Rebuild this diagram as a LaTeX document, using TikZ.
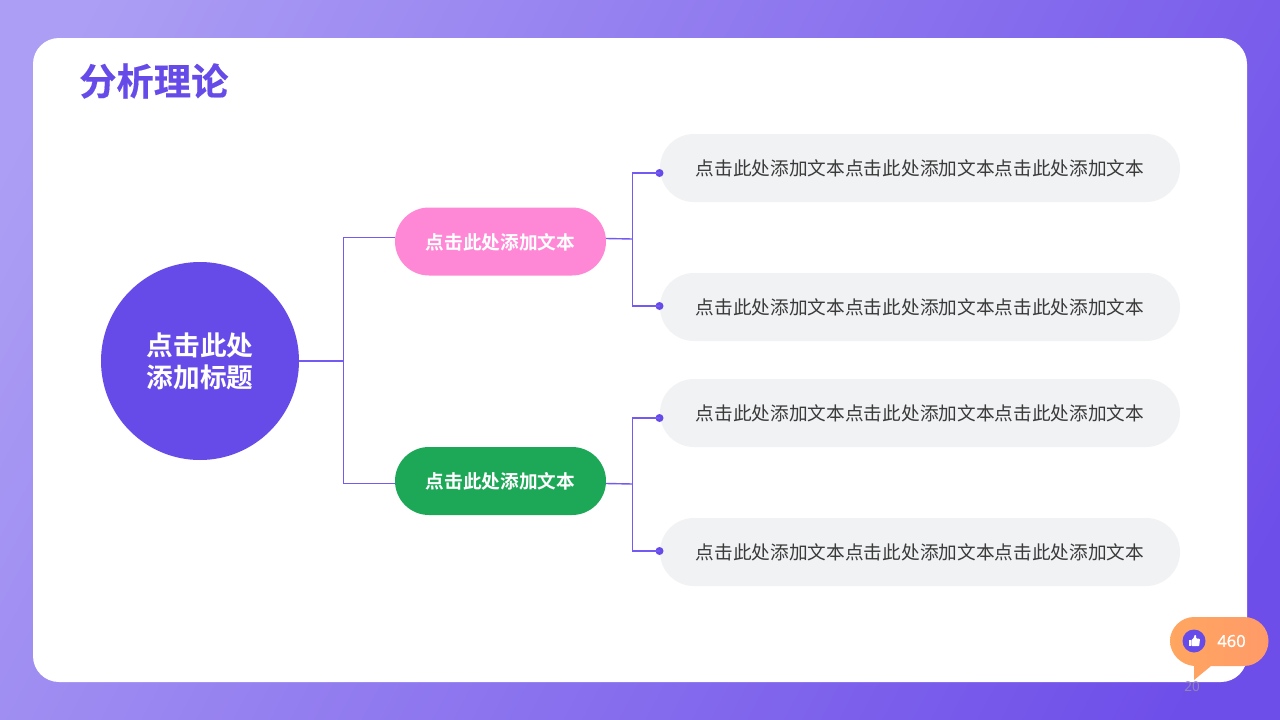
\documentclass[tikz,border=0pt]{standalone}
\usepackage{fontspec}
\setmainfont{Noto Sans CJK SC}
\newfontfamily\cjkreg{Noto Sans CJK SC}
\newfontfamily\cjkbold{Noto Sans CJK SC Bold}
\newfontfamily\cjkheavy[FakeBold=0.35]{Noto Sans CJK SC Bold}
\newfontfamily\numfont{Noto Sans}
\newfontfamily\numbold[FakeBold=0.5]{Noto Sans}
\definecolor{violet}{HTML}{674BE9}
\definecolor{lineviolet}{HTML}{7459F2}
\definecolor{pinkpill}{HTML}{FF88D6}
\definecolor{greenpill}{HTML}{1DA858}
\definecolor{greypill}{HTML}{F1F2F4}
\definecolor{bodytext}{HTML}{3A3A3A}
\definecolor{bgA}{HTML}{AC9EF4}
\definecolor{bgB}{HTML}{6E4EE9}
\definecolor{orangeA}{HTML}{FFA660}
\definecolor{orangeB}{HTML}{FF9A68}
\definecolor{pagegrey}{HTML}{8F84B5}
\tikzset{
  x=1pt,y=-1pt,
  pillbase/.style={rounded corners=34pt,minimum height=68pt,inner sep=0pt,outer sep=0pt},
  midpill/.style={pillbase,minimum width=211pt,text=white,font=\cjkbold\fontsize{18.67}{22}\selectfont},
  textpill/.style={pillbase,fill=greypill,minimum width=520pt,text=bodytext,font=\cjkreg\fontsize{18.67}{22}\selectfont},
  link/.style={draw=lineviolet,line width=1.4pt},
  enddot/.style={circle,fill=violet,minimum size=8pt,inner sep=0pt,outer sep=0pt},
}
\begin{document}
\begin{tikzpicture}
\useasboundingbox (0,0) rectangle (1280,720);
\begin{scope}
\clip (0,0) rectangle (1280,720);
\shade[left color=bgA,right color=bgB,shading angle=62] (-10,-300) rectangle (1290,1000);
\end{scope}
\fill[white,rounded corners=26pt] (33,38) rectangle (1247,682);
\node[anchor=west,inner sep=0pt,text=violet,font=\cjkheavy\fontsize{37.3}{40}\selectfont] (title) at (79,81) {分析理论};

\node[circle,fill=violet,minimum size=198pt,inner sep=0pt,outer sep=0pt,align=center,text=white,font=\cjkbold\fontsize{26.67}{32}\selectfont] (root) at (200,361) {\raisebox{-0.7pt}[\height][\depth]{点击此处}\\\raisebox{-0.7pt}[\height][\depth]{添加标题}};
\node[midpill,fill=pinkpill] (pink) at (500.5,241.5) {\raisebox{-1pt}[\height][\depth]{点击此处添加文本}};
\node[midpill,fill=greenpill] (green) at (500.5,481) {点击此处添加文本};
\node[textpill] (t1) at (920,168) {点击此处添加文本点击此处添加文本点击此处添加文本};
\node[textpill] (t2) at (920,307) {点击此处添加文本点击此处添加文本点击此处添加文本};
\node[textpill] (t3) at (920,413) {点击此处添加文本点击此处添加文本点击此处添加文本};
\node[textpill] (t4) at (920,552) {点击此处添加文本点击此处添加文本点击此处添加文本};

\node[enddot] (d1) at (659.5,173) {};
\node[enddot] (d2) at (659.5,306) {};
\node[enddot] (d3) at (659.5,418) {};
\node[enddot] (d4) at (659.5,551) {};

\coordinate (hub) at (343.5,361);
\coordinate (pinkin) at (395,237.5);
\coordinate (greenin) at (395,483.5);
\coordinate (pinkout) at (606,238.5);
\coordinate (greenout) at (606,483.5);
\coordinate (hubp) at (632.5,239);
\coordinate (hubg) at (632.5,484);

\draw[link] (root.east) -- (hub);
\draw[link] (pinkin) -| (hub) |- (greenin);
\draw[link] (pinkout) -- (hubp);
\draw[link] (greenout) -- (hubg);
\draw[link] (d1.center) -| (hubp) |- (d2.center);
\draw[link] (d3.center) -| (hubg) |- (d4.center);

% like badge
\node[text=pagegrey,inner sep=0pt,font=\numfont\fontsize{13.5}{14}\selectfont] (pageno) at (1192,687) {20};
\shade[left color=orangeA,right color=orangeB]
  (1194,617) -- (1244,617) .. controls (1258,617) and (1268.5,628) .. (1268.5,641)
  .. controls (1268.5,654) and (1258,666) .. (1244,666) -- (1211,666) -- (1194,680) -- (1194,666)
  .. controls (1181,665) and (1170,654) .. (1170,641) .. controls (1170,628) and (1181,617) .. (1194,617) -- cycle;
\node[circle,fill=violet,minimum size=23pt,inner sep=0pt] (thumbdisc) at (1194,641) {};
\fill[white] (1188.5,640) rectangle (1190.6,646);
\fill[white,rounded corners=0.7pt] (1191.3,640.2) -- (1194,637.5) -- (1194.6,634.8) -- (1196.2,635.2) -- (1196.2,638.6) -- (1200,638.8) -- (1199.2,646) -- (1191.3,646) -- cycle;
\node[text=white,inner sep=0pt,font=\numbold\fontsize{16.5}{18}\selectfont] (likes) at (1231.5,641) {460};
\end{tikzpicture}
\end{document}
